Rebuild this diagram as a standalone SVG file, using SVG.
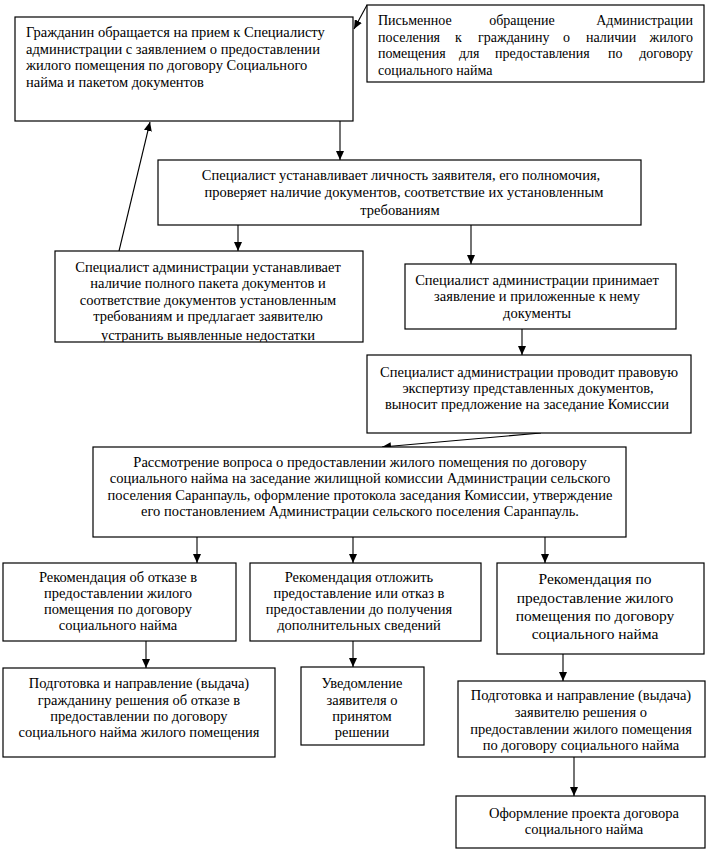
<svg xmlns="http://www.w3.org/2000/svg" width="716" height="854" viewBox="0 0 716 854">
<style>
.box{fill:#fff;stroke:#000;stroke-width:1.2}
.t{font-family:'Liberation Serif','Tinos','DejaVu Serif',serif;font-size:14.5px;fill:#000}
.s{font-size:14px}
.c{text-anchor:middle}
.big{font-size:15.5px}
.ln{stroke:#000;stroke-width:1.1;fill:none;marker-end:url(#ah)}
</style>
<defs>
<marker id="ah" viewBox="0 0 10 10" refX="10" refY="5" markerWidth="9" markerHeight="8" markerUnits="userSpaceOnUse" orient="auto" preserveAspectRatio="none"><path d="M0,0 L10,5 L0,10 z" fill="#000"/></marker>
<clipPath id="clip4"><rect x="55" y="251" width="308" height="91"/></clipPath>
</defs>
<rect width="716" height="854" fill="#fff"/>

<g id="connectors">
<line class="ln" x1="367" y1="5" x2="354" y2="29"/>
<line class="ln" x1="340" y1="121" x2="340" y2="160"/>
<line class="ln" x1="119" y1="251" x2="150" y2="122"/>
<line class="ln" x1="238" y1="225" x2="238" y2="251"/>
<line class="ln" x1="471" y1="225" x2="471" y2="264"/>
<line class="ln" x1="522" y1="329" x2="522" y2="355"/>
<line class="ln" x1="541" y1="433" x2="382" y2="447"/>
<line class="ln" x1="197" y1="537" x2="197" y2="563"/>
<line class="ln" x1="353" y1="537" x2="353" y2="563"/>
<line class="ln" x1="545" y1="537" x2="545" y2="563"/>
<line class="ln" x1="146" y1="641" x2="146" y2="668"/>
<line class="ln" x1="353" y1="641" x2="353" y2="667"/>
<line class="ln" x1="563" y1="654" x2="563" y2="681"/>
<line class="ln" x1="574" y1="757" x2="574" y2="796"/>
</g>

<g id="n1">
<rect class="box" x="15" y="17" width="338" height="104"/>
<text class="t" x="26" y="37">Гражданин обращается  на прием к Специалисту</text>
<text class="t" x="26" y="53.5">администрации с заявлением о предоставлении</text>
<text class="t" x="26" y="70">жилого помещения по договору Социального</text>
<text class="t" x="26" y="86.5">найма и пакетом документов</text>
</g>

<g id="n2">
<rect class="box" x="367" y="5" width="337" height="77"/>
<text class="t s" y="25"><tspan x="378">Письменное</tspan><tspan x="522" text-anchor="middle">обращение</tspan><tspan x="693" text-anchor="end">Администрации</tspan></text>
<text class="t s" y="41.5"><tspan x="378">поселения</tspan><tspan x="455">к</tspan><tspan x="478">гражданину</tspan><tspan x="563">о</tspan><tspan x="586">наличии</tspan><tspan x="693" text-anchor="end">жилого</tspan></text>
<text class="t s" y="58"><tspan x="378">помещения</tspan><tspan x="459">для</tspan><tspan x="495">предоставления</tspan><tspan x="608">по</tspan><tspan x="693" text-anchor="end">договору</tspan></text>
<text class="t s" x="378" y="74.5">социального найма</text>
</g>

<g id="n3">
<rect class="box" x="158" y="160" width="483" height="65"/>
<text class="t c" x="401" y="179.5">Специалист устанавливает  личность заявителя, его полномочия,</text>
<text class="t c" x="404" y="197">проверяет  наличие документов, соответствие  их установленным</text>
<text class="t c" x="400" y="214.5">требованиям</text>
</g>

<g id="n4">
<rect class="box" x="55" y="251" width="308" height="91"/>
<g clip-path="url(#clip4)">
<text class="t c" x="208" y="271.5">Специалист администрации устанавливает</text>
<text class="t c" x="208" y="288">наличие полного пакета документов и</text>
<text class="t c" x="208" y="304.5">соответствие  документов установленным</text>
<text class="t c" x="208" y="321">требованиям  и предлагает заявителю</text>
<text class="t c" x="208" y="340">устранить выявленные недостатки</text>
</g>
</g>

<g id="n5">
<rect class="box" x="405" y="264" width="271" height="65"/>
<text class="t c" x="537" y="284.5">Специалист администрации принимает</text>
<text class="t c" x="537" y="301">заявление и приложенные к нему</text>
<text class="t c" x="537" y="317.5">документы</text>
</g>

<g id="n6">
<rect class="box" x="367" y="355" width="324" height="78"/>
<text class="t c" x="529" y="376.5">Специалист администрации проводит правовую</text>
<text class="t c" x="528" y="392.5">экспертизу представленных  документов,</text>
<text class="t c" x="527" y="408.5">выносит предложение на заседание Комиссии</text>
</g>

<g id="n7">
<rect class="box" x="93" y="447" width="533" height="90"/>
<text class="t c" x="360" y="466.5">Рассмотрение  вопроса о предоставлении жилого помещения по договору</text>
<text class="t c" x="360" y="483">социального найма на заседание жилищной комиссии Администрации сельского</text>
<text class="t c" x="360" y="499.5">поселения Саранпауль,  оформление протокола заседания Комиссии, утверждение</text>
<text class="t c" x="360" y="516">его постановлением Администрации  сельского  поселения Саранпауль.</text>
</g>

<g id="n8">
<rect class="box" x="3" y="563" width="233" height="78"/>
<text class="t c" x="118" y="581.5">Рекомендация об отказе в</text>
<text class="t c" x="118" y="597.5">предоставлении жилого</text>
<text class="t c" x="118" y="613.5">помещения по договору</text>
<text class="t c" x="118" y="629.5">социального найма</text>
</g>

<g id="n9">
<rect class="box" x="250" y="563" width="231" height="78"/>
<text class="t c" x="359" y="581.5">Рекомендация отложить</text>
<text class="t c" x="359" y="597.5">предоставление  или отказ в</text>
<text class="t c" x="359" y="613.5">предоставлении до получения</text>
<text class="t c" x="359" y="629.5">дополнительных  сведений</text>
</g>

<g id="n10">
<rect class="box" x="497" y="563" width="207" height="91"/>
<text class="t big c" x="595" y="584">Рекомендация по</text>
<text class="t big c" x="595" y="602.5">предоставление жилого</text>
<text class="t big c" x="595" y="620.5">помещения по договору</text>
<text class="t big c" x="595" y="638.5">социального найма</text>
</g>

<g id="n11">
<rect class="box" x="3" y="668" width="272" height="89"/>
<text class="t c" x="139" y="687.5">Подготовка  и направление  (выдача)</text>
<text class="t c" x="139" y="704.5">гражданину решения об отказе в</text>
<text class="t c" x="139" y="721">предоставлении по договору</text>
<text class="t c" x="139" y="737">социального  найма жилого помещения</text>
</g>

<g id="n12">
<rect class="box" x="301" y="667" width="123" height="78"/>
<text class="t c" x="362" y="687.5">Уведомление</text>
<text class="t c" x="362" y="704.5">заявителя о</text>
<text class="t c" x="362" y="721">принятом</text>
<text class="t c" x="362" y="737">решении</text>
</g>

<g id="n13">
<rect class="box" x="458" y="681" width="247" height="76"/>
<text class="t c" x="581" y="699.5">Подготовка  и направление  (выдача)</text>
<text class="t c" x="581" y="717">заявителю  решения  о</text>
<text class="t c" x="581" y="733.5">предоставлении  жилого помещения</text>
<text class="t c" x="581" y="750">по договору социального найма</text>
</g>

<g id="n14">
<rect class="box" x="456" y="796" width="249" height="52"/>
<text class="t c" x="584" y="817.5">Оформление  проекта договора</text>
<text class="t c" x="584" y="833.5">социального найма</text>
</g>
</svg>
